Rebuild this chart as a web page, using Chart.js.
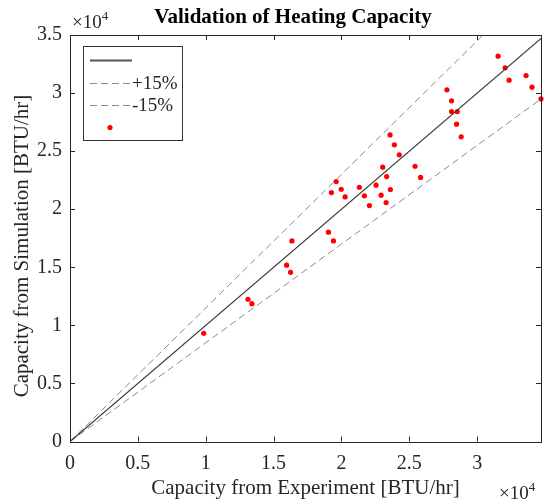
<!DOCTYPE html>
<html>
<head>
<meta charset="utf-8">
<script src="https://cdn.jsdelivr.net/npm/chart.js@4.4.0/dist/chart.umd.min.js"></script>
<style>
  html, body { margin: 0; padding: 0; background: #fff; }
</style>
</head>
<body>
<canvas id="scatter-chart" width="545" height="502"></canvas>
<script>
// Heating capacity, experiment vs simulation (BTU/hr)
var expCapacity = [9850, 13110, 13400, 15960, 16250, 16350, 19040, 19410, 19260, 19610,
  19980, 20270, 21320, 21690, 22060, 22550, 22920, 23040, 23330, 23290,
  23600, 23580, 23900, 24260, 25420, 25830, 27770, 28110, 28110, 28530,
  28480, 28820, 31540, 32060, 32350, 33600, 34040, 34700];
var simCapacity = [9320, 12250, 11870, 15180, 14570, 17270, 18020, 17270, 21430, 22380,
  21720, 21060, 21890, 21150, 20310, 22070, 21210, 23620, 22810, 20570,
  21690, 26400, 25540, 24680, 23700, 22740, 30280, 29330, 28410, 28410,
  27320, 26230, 33180, 32170, 31110, 31510, 30510, 29500];

// y = k*x reference lines
var refSlopes = [1, 1.15, 0.85];
var refLabels = ['', '+15%', '-15%'];
var refX = [0, 35000];

// tick positions (labels shown in units of 10^4)
var xTickVals = [0, 5000, 10000, 15000, 20000, 25000, 30000];
var yTickVals = [0, 5000, 10000, 15000, 20000, 25000, 30000, 35000];
var xMax = 34700, yMax = 35000;

var serif = '"Liberation Serif", "Times New Roman", serif';
var axisColor = '#262626';

function refLine(k) {
  return refX.map(function (x) { return { x: x, y: k * x }; });
}

var datasets = refSlopes.map(function (k, i) {
  return {
    label: refLabels[i],
    data: refLine(k),
    showLine: true,
    pointRadius: 0,
    borderWidth: i === 0 ? 1.2 : 1,
    borderColor: i === 0 ? '#3a3a3a' : '#8a8a8a',
    borderDash: i === 0 ? [] : [7, 4],
    clip: 0
  };
});
datasets.push({
  label: '',
  data: expCapacity.map(function (x, i) { return { x: x, y: simCapacity[i] }; }),
  pointRadius: 2.6,
  pointBorderWidth: 0,
  backgroundColor: '#ff0000',
  borderColor: '#ff0000',
  clip: 3
});

// box, inward ticks, titles, legend and exponent labels drawn matlab-style
var matlabAxes = {
  id: 'matlabAxes',
  afterDraw: function (chart) {
    var ctx = chart.ctx, a = chart.chartArea;
    var xs = chart.scales.x, ys = chart.scales.y;
    ctx.save();
    ctx.strokeStyle = axisColor;
    ctx.lineWidth = 1;
    ctx.strokeRect(Math.round(a.left) + 0.5, Math.round(a.top) + 0.5,
      Math.round(a.right - a.left), Math.round(a.bottom - a.top));
    ctx.beginPath();
    xs.ticks.forEach(function (t) {
      var px = Math.round(xs.getPixelForValue(t.value)) + 0.5;
      ctx.moveTo(px, a.bottom); ctx.lineTo(px, a.bottom - 5);
      ctx.moveTo(px, a.top); ctx.lineTo(px, a.top + 5);
    });
    ys.ticks.forEach(function (t) {
      var py = Math.round(ys.getPixelForValue(t.value)) + 0.5;
      ctx.moveTo(a.left, py); ctx.lineTo(a.left + 5, py);
      ctx.moveTo(a.right, py); ctx.lineTo(a.right - 5, py);
    });
    ctx.stroke();

    // title
    ctx.fillStyle = '#000';
    ctx.font = 'bold 21px ' + serif;
    ctx.textAlign = 'center';
    ctx.textBaseline = 'middle';
    ctx.fillText('Validation of Heating Capacity', 293, 18);

    // y axis label
    ctx.save();
    ctx.translate(22, 246);
    ctx.rotate(-Math.PI / 2);
    ctx.fillStyle = axisColor;
    ctx.font = '21px ' + serif;
    ctx.fillText('Capacity from Simulation [BTU/hr]', 0, 0);
    ctx.restore();

    // x10^4 exponent labels
    ctx.fillStyle = axisColor;
    ctx.textAlign = 'left';
    ctx.textBaseline = 'alphabetic';
    ctx.font = '19px ' + serif;
    var w = ctx.measureText('\u00d710').width;
    ctx.fillText('\u00d710', 72, 28);
    ctx.fillText('\u00d710', 499, 499);
    ctx.font = '13px ' + serif;
    ctx.fillText('4', 72 + w, 20);
    ctx.fillText('4', 499 + w, 491);

    // legend
    var lx = 83, ly = 46, lw = 99, lh = 94;
    ctx.fillStyle = '#fff';
    ctx.fillRect(lx, ly, lw, lh);
    ctx.strokeStyle = '#333';
    ctx.strokeRect(lx + 0.5, ly + 0.5, lw, lh);
    var rows = [60, 83, 105];
    chart.data.datasets.slice(0, 3).forEach(function (ds, i) {
      ctx.beginPath();
      ctx.strokeStyle = i === 0 ? '#555' : ds.borderColor;
      ctx.lineWidth = i === 0 ? 1.8 : 1;
      ctx.setLineDash(ds.borderDash);
      ctx.moveTo(90, rows[i] + 0.5); ctx.lineTo(132, rows[i] + 0.5);
      ctx.stroke();
      ctx.setLineDash([]);
      ctx.fillStyle = axisColor;
      ctx.font = '19px ' + serif;
      ctx.textBaseline = 'middle';
      ctx.fillText(ds.label, 132, rows[i] + 1);
    });
    ctx.fillStyle = '#ff0000';
    ctx.beginPath();
    ctx.arc(110, 127.5, 2.6, 0, Math.PI * 2);
    ctx.fill();
    ctx.restore();
  }
};

function tickFmt(v) { return String(v / 10000); }

function fixedTicks(vals) {
  return function (s) {
    s.ticks = vals.map(function (v) { return { value: v }; });
  };
}

new Chart(document.getElementById('scatter-chart'), {
  type: 'scatter',
  data: { datasets: datasets },
  options: {
    responsive: false,
    animation: false,
    layout: { padding: { top: 35, right: 3, left: 0, bottom: 0 } },
    plugins: {
      legend: { display: false },
      title: { display: false },
      tooltip: { enabled: false }
    },
    scales: {
      x: {
        type: 'linear',
        min: 0,
        max: xMax,
        afterFit: function (s) { s.height = 60.5; },
        afterBuildTicks: fixedTicks(xTickVals),
        grid: { display: false, drawTicks: false },
        border: { display: false },
        ticks: {
          padding: 10,
          maxRotation: 0,
          autoSkip: false,
          color: axisColor,
          font: { family: serif, size: 20 },
          callback: tickFmt
        },
        title: {
          display: true,
          text: 'Capacity from Experiment [BTU/hr]',
          color: axisColor,
          font: { family: serif, size: 21 },
          padding: { top: 0, bottom: 1 }
        }
      },
      y: {
        type: 'linear',
        min: 0,
        max: yMax,
        afterFit: function (s) { s.width = 70; },
        afterBuildTicks: fixedTicks(yTickVals),
        grid: { display: false, drawTicks: false },
        border: { display: false },
        ticks: {
          padding: 8,
          autoSkip: false,
          color: axisColor,
          font: { family: serif, size: 20 },
          callback: tickFmt
        },
        title: { display: false }
      }
    }
  },
  plugins: [matlabAxes]
});
</script>
</body>
</html>
